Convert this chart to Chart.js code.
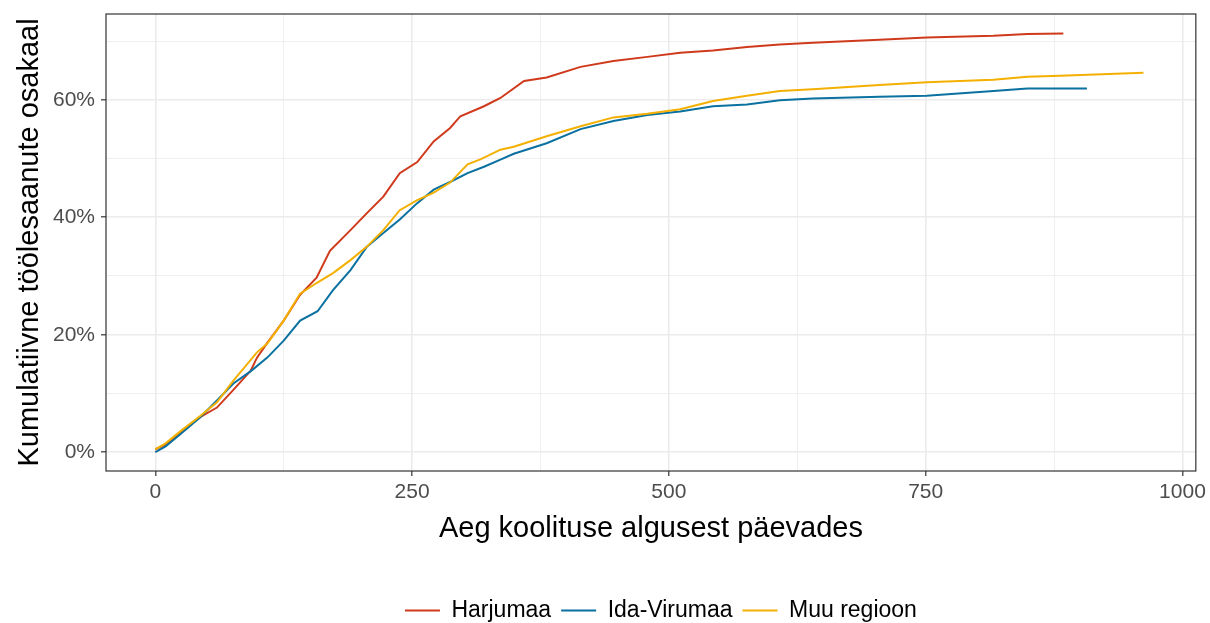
<!DOCTYPE html>
<html>
<head>
<meta charset="utf-8">
<script src="https://cdn.jsdelivr.net/npm/chart.js@4.4.1/dist/chart.umd.min.js"></script>
<style>
  body { margin: 0; background: #fff; }
  #wrap { width: 1210px; height: 623px; }
</style>
</head>
<body>
<div id="wrap"><canvas id="chart"></canvas></div>
<script>
// Kumulatiivne töölesaanute osakaal (%), päevad koolituse algusest

const regions = ['Harjumaa', 'Ida-Virumaa', 'Muu regioon'];
const regionColors = ['#D03A1C', '#0A71A0', '#F4B000'];

const harjumaaDays  = [0, 10, 24, 44, 60, 76, 93, 99, 109, 125, 141, 157, 170, 190, 206, 222, 238, 255, 271, 287, 297, 320, 336, 359, 381, 414, 446, 479, 511, 543, 576, 608, 640, 705, 751, 816, 849, 884];
const harjumaaShare = [0.5, 1.3, 3.3, 6.0, 7.6, 10.6, 13.9, 16.1, 18.6, 22.4, 26.8, 29.7, 34.3, 37.8, 40.7, 43.5, 47.5, 49.4, 52.9, 55.2, 57.2, 58.9, 60.3, 63.2, 63.8, 65.6, 66.6, 67.3, 68.0, 68.4, 69.0, 69.4, 69.7, 70.2, 70.6, 70.9, 71.2, 71.3];

const idaVirumaaDays  = [0, 10, 24, 44, 60, 76, 93, 109, 125, 141, 158, 173, 190, 206, 222, 238, 255, 271, 287, 304, 320, 336, 349, 381, 414, 446, 479, 511, 543, 576, 608, 640, 705, 751, 816, 849, 907];
const idaVirumaaShare = [0, 1.0, 3.0, 6.0, 8.8, 11.7, 13.8, 16.1, 19.0, 22.4, 24.0, 27.6, 31.0, 35.0, 37.3, 39.6, 42.4, 44.7, 46.0, 47.5, 48.6, 49.8, 50.8, 52.6, 55.0, 56.4, 57.4, 58.0, 58.9, 59.2, 59.9, 60.2, 60.5, 60.7, 61.5, 61.9, 61.9];

const muuDays  = [0, 10, 24, 44, 60, 76, 99, 109, 125, 141, 157, 173, 190, 206, 222, 238, 255, 271, 287, 304, 317, 336, 349, 381, 414, 446, 479, 511, 543, 576, 608, 640, 705, 751, 816, 849, 881, 962];
const muuShare = [0.5, 1.5, 3.5, 6.2, 8.5, 12.2, 17.0, 18.5, 22.4, 27.0, 28.8, 30.5, 32.7, 35.0, 37.8, 41.2, 42.9, 44.2, 45.9, 49.0, 49.9, 51.5, 52.0, 53.8, 55.5, 57.0, 57.6, 58.4, 59.8, 60.7, 61.5, 61.8, 62.5, 63.0, 63.4, 63.9, 64.1, 64.6];

const xTicks = [0, 125, 250, 375, 500, 625, 750, 875, 1000];
const yTicks = [0, 10, 20, 30, 40, 50, 60, 70];

const FONT = 'Liberation Sans, Arial, sans-serif';

function toPoints(days, share) {
    return days.map((d, i) => ({ x: d, y: share[i] }));
}

const seriesList = [
    toPoints(harjumaaDays, harjumaaShare),
    toPoints(idaVirumaaDays, idaVirumaaShare),
    toPoints(muuDays, muuShare)
];

const datasets = regions.map((name, i) => ({
    label: name,
    data: seriesList[i],
    borderColor: regionColors[i],
    backgroundColor: regionColors[i],
    borderWidth: 2,
    pointRadius: 0,
    tension: 0,
    fill: false,
    order: regions.length - i   // later regions drawn on top, like ggplot
}));

// panel border drawn over the lines (theme_bw), legend nudged under panel centre
const panelBorder = {
    id: 'panelBorder',
    afterLayout(chart) {
        chart.legend.left += 10;
        chart.legend.right += 10;
    },
    afterDatasetsDraw(chart) {
        const { ctx, chartArea } = chart;
        ctx.save();
        ctx.strokeStyle = '#333333';
        ctx.lineWidth = 1.2;
        ctx.strokeRect(chartArea.left, chartArea.top, chartArea.right - chartArea.left, chartArea.bottom - chartArea.top);
        ctx.restore();
    }
};

const isMajor = (v, step) => v % step === 0;

new Chart(document.getElementById('chart'), {
    type: 'line',
    data: { datasets: datasets },
    plugins: [panelBorder],
    options: {
        responsive: true,
        maintainAspectRatio: false,
        animation: false,
        layout: { padding: { left: 0, right: 14, top: 14, bottom: -9 } },
        plugins: {
            tooltip: { enabled: false },
            legend: {
                position: 'bottom',
                fullSize: false,   // centre the legend under the panel
                labels: {
                    usePointStyle: true,
                    pointStyle: 'line',
                    pointStyleWidth: 35,
                    boxHeight: 10,
                    padding: 10,
                    color: '#000',
                    font: { family: FONT, size: 23 },
                    sort: (a, b) => a.datasetIndex - b.datasetIndex
                }
            }
        },
        scales: {
            x: {
                type: 'linear',
                min: -48,
                max: 1013,
                afterBuildTicks: scale => { scale.ticks = xTicks.map(v => ({ value: v })); },
                afterFit: scale => { scale.height = 118; },
                border: { display: false },
                grid: {
                    color: '#EBEBEB',
                    lineWidth: c => isMajor(c.tick.value, 250) ? 1.6 : 0.8,
                    tickLength: 5,
                    tickColor: c => isMajor(c.tick.value, 250) ? '#333333' : 'rgba(0,0,0,0)',
                    tickWidth: 1.2
                },
                ticks: {
                    autoSkip: false,
                    maxRotation: 0,
                    padding: 4,
                    color: '#4D4D4D',
                    font: { family: FONT, size: 21 },
                    callback: v => isMajor(v, 250) ? String(v) : ''
                },
                title: {
                    display: true,
                    text: 'Aeg koolituse algusest päevades',
                    color: '#000',
                    font: { family: FONT, size: 29 },
                    padding: { top: 4, bottom: 43 }
                }
            },
            y: {
                type: 'linear',
                min: -3.2,
                max: 74.6,
                afterBuildTicks: scale => { scale.ticks = yTicks.map(v => ({ value: v })); },
                afterFit: scale => {
                    scale.width = 106;
                    scale.paddingTop = 0;
                    scale.paddingBottom = 0;
                },
                border: { display: false },
                grid: {
                    color: '#EBEBEB',
                    lineWidth: c => isMajor(c.tick.value, 20) ? 1.6 : 0.8,
                    tickLength: 5,
                    tickColor: c => isMajor(c.tick.value, 20) ? '#333333' : 'rgba(0,0,0,0)',
                    tickWidth: 1.2
                },
                ticks: {
                    autoSkip: false,
                    padding: 6,
                    color: '#4D4D4D',
                    font: { family: FONT, size: 21 },
                    callback: v => isMajor(v, 20) ? v + '%' : ''
                },
                title: {
                    display: true,
                    text: 'Kumulatiivne töölesaanute osakaal',
                    color: '#000',
                    font: { family: FONT, size: 29 },
                    padding: { top: 13, bottom: 0 }
                }
            }
        }
    }
});
</script>
</body>
</html>
